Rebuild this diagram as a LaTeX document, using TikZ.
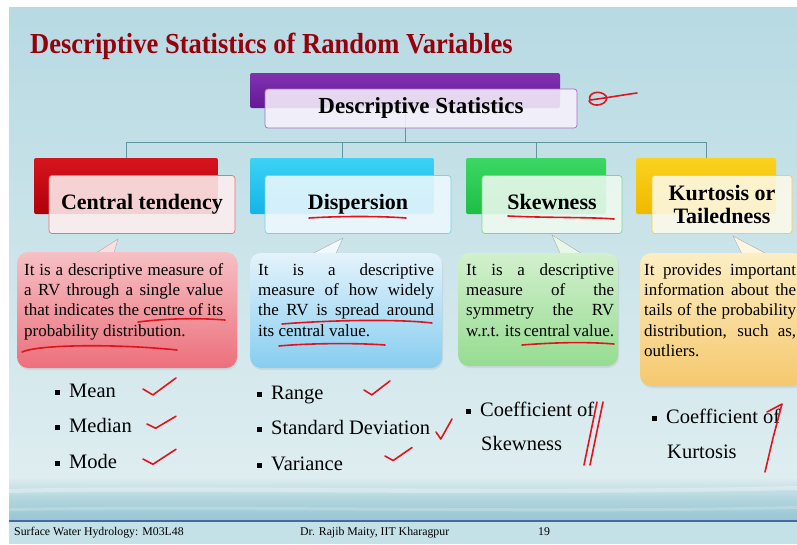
\documentclass[tikz,border=0pt]{standalone}
\usepackage{fontspec}
\setmainfont{Liberation Serif}
\newfontfamily\titlefont{Liberation Serif}[FakeStretch=0.915]
\usetikzlibrary{calc}
\usetikzlibrary{shadows}

\definecolor{bgtop}{RGB}{183,218,227}
\definecolor{bgbot}{RGB}{222,237,240}
\definecolor{water}{RGB}{176,212,221}
\definecolor{waterlow}{RGB}{150,198,210}
\definecolor{footbg}{RGB}{196,225,232}
\definecolor{footline}{RGB}{70,105,165}
\definecolor{titlered}{RGB}{150,0,10}
\definecolor{connline}{RGB}{95,150,160}
\definecolor{penred}{RGB}{225,20,30}
\definecolor{tailline}{RGB}{165,170,172}
\definecolor{purpletop}{RGB}{128,50,175}
\definecolor{purplebot}{RGB}{100,25,150}
\definecolor{purplefill}{RGB}{247,241,251}
\definecolor{redtop}{RGB}{215,20,30}
\definecolor{redbot}{RGB}{175,0,10}
\definecolor{redfill}{RGB}{253,238,238}
\definecolor{cyantop}{RGB}{60,210,245}
\definecolor{cyanbot}{RGB}{20,180,230}
\definecolor{cyanfill}{RGB}{237,248,253}
\definecolor{greentop}{RGB}{60,215,100}
\definecolor{greenbot}{RGB}{30,190,70}
\definecolor{greenfill}{RGB}{238,250,240}
\definecolor{yellowtop}{RGB}{250,210,30}
\definecolor{yellowbot}{RGB}{240,185,0}
\definecolor{yellowfill}{RGB}{253,250,232}
\definecolor{ctcalltop}{RGB}{246,192,196}
\definecolor{ctcallbot}{RGB}{236,112,124}
\definecolor{dpcalltop}{RGB}{228,243,251}
\definecolor{dpcallbot}{RGB}{135,205,240}
\definecolor{skcalltop}{RGB}{210,240,205}
\definecolor{skcallbot}{RGB}{150,220,145}
\definecolor{kucalltop}{RGB}{252,238,195}
\definecolor{kucallbot}{RGB}{245,200,110}

% one justified line of a description
\newcommand{\fl}[1]{\makebox[\hsize][s]{\spaceskip=0pt\xspaceskip=0pt #1}\\}
% square bullet
\newcommand{\sq}{\rule[2.2pt]{5pt}{5pt}\hspace{9pt}}

\begin{document}
\begin{tikzpicture}[x=1pt,y=-1pt,
  bar/.style={rounded corners=2pt, inner sep=0pt, minimum height=56},
  catbox/.style={draw, rounded corners=3pt, inner sep=0pt, minimum height=58, fill opacity=0.88, text opacity=1, line width=0.7pt, align=center, font=\fontsize{22}{23}\selectfont\bfseries},
  oneline/.style={text height=15pt, text depth=4.5pt},
  callout/.style={rounded corners=11pt, inner sep=0pt, drop shadow={opacity=0.15, shadow xshift=1pt, shadow yshift=-2pt}},
  tail/.style={draw=tailline, line width=0.4pt},
  desc/.style={text width=#1, align=justify, inner sep=0pt, anchor=north west, font=\fontsize{17}{20.4}\selectfont},
  item/.style={anchor=base west, inner sep=0pt, font=\fontsize{20.5}{24}\selectfont},
  conn/.style={draw=connline, line width=0.8pt},
  pen/.style={draw=penred, line width=1.6pt, line cap=round, line join=round},
  foot/.style={anchor=base west, inner sep=0pt, font=\fontsize{11.8}{12}\selectfont}
]
\useasboundingbox (0,0) rectangle (797,544);

% slide background
\fill[white] (0,0) rectangle (797,544);
\fill[top color=bgtop, bottom color=bgbot] (9,7) rectangle (797,477);
\fill[top color=bgbot, bottom color=water] (9,477) rectangle (797,500);
\fill[top color=water, bottom color=waterlow] (9,500) rectangle (797,521);
\fill[white, opacity=0.3] (9,489) .. controls (200,484) and (500,493) .. (797,486) -- (797,490) .. controls (500,497) and (200,489) .. (9,493) -- cycle;
\fill[white, opacity=0.2] (9,508) .. controls (250,504) and (550,512) .. (797,506) -- (797,509) .. controls (550,515) and (250,507) .. (9,511) -- cycle;
\fill[footbg] (9,521) rectangle (797,544);
\draw[footline, line width=1.5pt] (9,521) -- (797,521);

% title
\node[anchor=base west, inner sep=0pt, text=titlered, font=\fontsize{29}{30}\titlefont\bfseries] (title) at (30,53) {Descriptive Statistics of Random Variables};

% top box
\node[bar, minimum width=310, minimum height=35, top color=purpletop, bottom color=purplebot] (dsbar) at (405,90.5) {};
\coordinate (hub) at (405,142);
\draw[conn] (dsbar.south) -- (hub);
\node[catbox, oneline, draw=purpletop!70, fill=purplefill, minimum width=312, minimum height=39, font=\fontsize{23}{23}\selectfont\bfseries] (dsbox) at (421,108.5) {Descriptive Statistics};

% category bars
\node[bar, minimum width=184, top color=redtop, bottom color=redbot] (ctbar) at (126,186) {};
\node[bar, minimum width=184, top color=cyantop, bottom color=cyanbot] (dpbar) at (342,186) {};
\node[bar, minimum width=140, top color=greentop, bottom color=greenbot] (skbar) at (536,186) {};
\node[bar, minimum width=140, top color=yellowtop, bottom color=yellowbot] (kubar) at (706,186) {};
\foreach \b in {ctbar,dpbar,skbar,kubar}
  \draw[conn] (hub) -| (\b.north);

% category boxes
\node[catbox, oneline, draw=redtop!60, fill=redfill, minimum width=186] (ctbox) at ($(ctbar)+(16,18.5)$) {Central tendency};
\node[catbox, oneline, draw=cyanbot!60, fill=cyanfill, minimum width=186] (dpbox) at ($(dpbar)+(16,18.5)$) {Dispersion};
\node[catbox, oneline, draw=greenbot!60, fill=greenfill, minimum width=140] (skbox) at ($(skbar)+(16,18.5)$) {Skewness};
\node[catbox, draw=yellowbot!70, fill=yellowfill, minimum width=140] (kubox) at ($(kubar)+(16,18.5)$) {Kurtosis or\\Tailedness};

% callout tails
\coordinate (cttip) at (118,239);
\coordinate (dptip) at (343,238);
\coordinate (sktip) at (552,235);
\coordinate (kutip) at (733,236);
\filldraw[tail, fill=ctcalltop!50!white] (85,260) -- (cttip) -- (112,260);
\filldraw[tail, fill=dpcalltop!50!white] (300,260) -- (dptip) -- (333,260);
\filldraw[tail, fill=skcalltop!50!white] (563,260) -- (sktip) -- (592,260);
\filldraw[tail, fill=kucalltop!50!white] (745,260) -- (kutip) -- (778,260);

% callouts
\node[callout, top color=ctcalltop, bottom color=ctcallbot, minimum width=220, minimum height=116] (ctcall) at (127,310) {};
\node[callout, top color=dpcalltop, bottom color=dpcallbot, minimum width=192, minimum height=115] (dpcall) at (346,310.5) {};
\node[callout, top color=skcalltop, bottom color=skcallbot, minimum width=160, minimum height=113] (skcall) at (538,309.5) {};
\node[callout, top color=kucalltop, bottom color=kucallbot, minimum width=165, minimum height=133] (kucall) at (722.5,319.5) {};

% descriptions
\node[desc=199] (cttext) at (24,263) {\fl{It is a descriptive measure of}\fl{a RV through a single value}\fl{that indicates the centre of its}probability distribution.};
\node[desc=176] (dptext) at (258,263) {\fl{It is a descriptive}\fl{measure of how widely}\fl{the RV is spread around}its central value.};
\node[desc=148] (sktext) at (466,263) {\fl{It is a descriptive}\fl{measure of the}\fl{symmetry the RV}\fl{w.r.t. its central value.}};
\node[desc=152] (kutext) at (644,263) {\fl{It provides important}\fl{information about the}\fl{tails of the probability}\fl{distribution, such as,}outliers.};

% measures
\node[item] (mean) at (55,397) {\sq Mean};
\node[item] (median) at (55,432) {\sq Median};
\node[item] (mode) at (55,468) {\sq Mode};
\node[item] (range) at (257,399) {\sq Range};
\node[item] (stdev) at (257,434) {\sq Standard Deviation};
\node[item] (var) at (257,470) {\sq Variance};
\node[item] (skcoef) at (466,416) {\sq Coefficient of};
\node[item] (skword) at (481,450) {Skewness};
\node[item] (kucoef) at (652,423) {\sq Coefficient of};
\node[item] (kuword) at (667,458) {Kurtosis};

% footer
\node[foot] (course) at (14,535) {Surface Water Hydrology: M03L48};
\node[foot] (author) at (300,535) {Dr. Rajib Maity, IIT Kharagpur};
\node[foot] (page) at (538,535) {19};

% pen marks
\draw[pen] (637,93) .. controls (622,95) and (606,98) .. (590,100) .. controls (587,93) and (600,89) .. (606,96) .. controls (610,104) and (593,109) .. (589,101);
\draw[pen] (309,218) .. controls (340,216) and (380,216) .. (406,218);
\draw[pen] (508,216) .. controls (550,218) and (590,217) .. (614,219);
\draw[pen] (138,322) .. controls (170,318) and (200,318) .. (225,320);
\draw[pen] (22,352) .. controls (40,344) and (120,344) .. (177,350);
\draw[pen] (282,324) .. controls (330,320) and (400,319) .. (432,323);
\draw[pen] (279,346) .. controls (310,343) and (360,343) .. (385,345);
\draw[pen] (522,345) .. controls (560,342) and (590,342) .. (614,344);
\foreach \x/\y/\w/\h in {143/389/33/17, 147/424/29/12, 143/459/33/15, 364/390/26/14, 436/432/16/20, 385/456/27/13}
  \draw[pen] (\x,\y) -- ++(0.3*\w,0.35*\h) -- ++(0.7*\w,-1.0*\h);
\draw[pen] (597,402) -- (584,465);
\draw[pen] (603,402) -- (590,465);
\draw[pen] (767,412) -- (782,404) -- (773,438) -- (765,472);
\end{tikzpicture}
\end{document}
